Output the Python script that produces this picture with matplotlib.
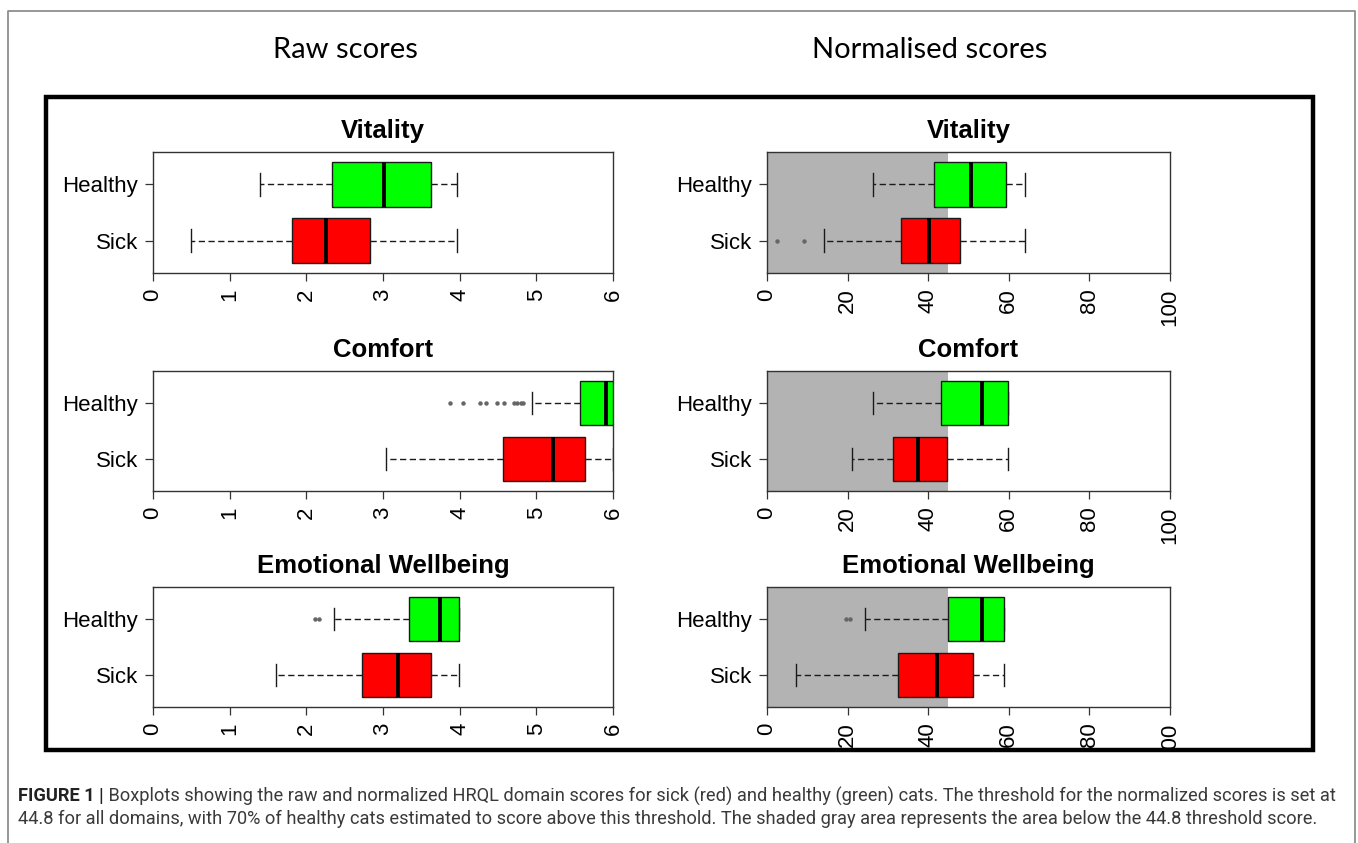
import matplotlib
matplotlib.use("Agg")
import matplotlib.pyplot as plt
from matplotlib.patches import Rectangle

# ---------------- data ----------------
groups = ["Sick", "Healthy"]
domains = ["Vitality", "Comfort", "Emotional Wellbeing"]
threshold = 44.8

# five-number summaries: [whisker low, Q1, median, Q3, whisker high]
raw_vitality_sick = [0.49, 1.81, 2.26, 2.83, 3.96]
raw_vitality_healthy = [1.40, 2.34, 3.01, 3.62, 3.96]
raw_comfort_sick = [3.04, 4.57, 5.22, 5.64, 6.00]
raw_comfort_healthy = [4.94, 5.57, 5.91, 6.00, 6.00]
raw_emotional_sick = [1.60, 2.73, 3.20, 3.63, 3.99]
raw_emotional_healthy = [2.36, 3.34, 3.74, 3.99, 3.99]

raw_vitality_sick_out = []
raw_vitality_healthy_out = []
raw_comfort_sick_out = []
raw_comfort_healthy_out = [3.87, 4.04, 4.26, 4.35, 4.49, 4.58, 4.71, 4.75, 4.80, 4.83]
raw_emotional_sick_out = []
raw_emotional_healthy_out = [2.11, 2.17]

norm_vitality_sick = [14.2, 33.2, 40.2, 48.0, 64.0]
norm_vitality_healthy = [26.2, 41.4, 50.7, 59.2, 64.0]
norm_comfort_sick = [21.2, 31.3, 37.5, 44.7, 59.7]
norm_comfort_healthy = [26.3, 43.1, 53.4, 59.7, 59.7]
norm_emotional_sick = [7.3, 32.4, 42.1, 51.2, 58.9]
norm_emotional_healthy = [24.4, 44.8, 53.4, 58.8, 58.9]

norm_vitality_sick_out = [2.6, 9.2]
norm_vitality_healthy_out = []
norm_comfort_sick_out = []
norm_comfort_healthy_out = []
norm_emotional_sick_out = []
norm_emotional_healthy_out = [19.5, 20.5]

raw_ticks = [0, 1, 2, 3, 4, 5, 6]
norm_ticks = [0, 20, 40, 60, 80, 100]

column_titles = ["Raw scores", "Normalised scores"]
caption_bold = "FIGURE 1 |"
caption_line1 = ("Boxplots showing the raw and normalized HRQL domain scores for sick (red) "
                 "and healthy (green) cats. The threshold for the normalized scores is set at")
caption_line2 = ("44.8 for all domains, with 70% of healthy cats estimated to score above this "
                 "threshold. The shaded gray area represents the area below the 44.8 threshold score.")

# ---------------- layout ----------------
plt.rcParams["font.family"] = ["Liberation Sans", "DejaVu Sans"]
W, H = 1358, 843
fig = plt.figure(figsize=(W / 100, H / 100), dpi=100)


def fx(x):
    return x / W


def fy(y):
    return 1 - y / H


def axes_px(x0, y0, x1, y1):
    return fig.add_axes([fx(x0), fy(y1), (x1 - x0) / W, (y1 - y0) / H])


rows = [(152, 273), (371, 491), (587, 707)]
left_col = (153, 613)
right_col = (767, 1170)

GREEN = "#00FF00"
RED = "#FF0000"
EDGE = "#1a1a1a"


def stats_of(v, out, label):
    return dict(whislo=v[0], q1=v[1], med=v[2], q3=v[3], whishi=v[4],
                fliers=out, label=label)


def draw_panel(ax, title, sick, healthy, sick_out, healthy_out, ticks, shade):
    xmax = ticks[-1]
    if shade:
        ax.axvspan(0, threshold, color="#B3B3B3", zorder=0, lw=0)
    st = [stats_of(sick, sick_out, groups[0]), stats_of(healthy, healthy_out, groups[1])]
    bp = ax.bxp(st, positions=[1, 2], widths=0.8, capwidths=0.4,
                orientation="horizontal", patch_artist=True, showfliers=True,
                boxprops=dict(edgecolor=EDGE, linewidth=1.0),
                medianprops=dict(color="black", linewidth=2.8, solid_capstyle="butt"),
                whiskerprops=dict(color=EDGE, linestyle=(0, (4.5, 2.5)), linewidth=1.0),
                capprops=dict(color=EDGE, linewidth=1.0),
                flierprops=dict(marker="o", markersize=2.2, markerfacecolor="#666666",
                                markeredgecolor="#666666", linestyle="none"))
    for patch, c in zip(bp["boxes"], [RED, GREEN]):
        patch.set_facecolor(c)
        patch.set_zorder(3)
    for m in bp["medians"]:
        m.set_zorder(4)
    ax.set_xlim(0, xmax)
    ax.set_ylim(0.42, 2.58)
    ax.set_xticks(ticks)
    ax.set_xticklabels([str(t) for t in ticks])
    ax.set_yticks([1, 2])
    ax.set_yticklabels(groups)
    ax.tick_params(axis="x", length=6, width=0.9, pad=5, labelsize=16,
                   labelrotation=90, color="#333333")
    ax.tick_params(axis="y", length=6, width=0.9, pad=5, labelsize=16,
                   color="#333333")
    for s in ax.spines.values():
        s.set_color("#333333")
        s.set_linewidth(1.0)
    ax.set_title(title, fontsize=18.5, fontweight="bold", pad=10)


raw_data = [
    (raw_vitality_sick, raw_vitality_healthy, raw_vitality_sick_out, raw_vitality_healthy_out),
    (raw_comfort_sick, raw_comfort_healthy, raw_comfort_sick_out, raw_comfort_healthy_out),
    (raw_emotional_sick, raw_emotional_healthy, raw_emotional_sick_out, raw_emotional_healthy_out),
]
norm_data = [
    (norm_vitality_sick, norm_vitality_healthy, norm_vitality_sick_out, norm_vitality_healthy_out),
    (norm_comfort_sick, norm_comfort_healthy, norm_comfort_sick_out, norm_comfort_healthy_out),
    (norm_emotional_sick, norm_emotional_healthy, norm_emotional_sick_out, norm_emotional_healthy_out),
]

for (y0, y1), name, rd, nd in zip(rows, domains, raw_data, norm_data):
    axl = axes_px(left_col[0], y0, left_col[1], y1)
    draw_panel(axl, name, *rd, raw_ticks, False)
    axr = axes_px(right_col[0], y0, right_col[1], y1)
    draw_panel(axr, name, *nd, norm_ticks, True)

# mask below the thick frame (clips bottom tick labels)
fig.add_artist(Rectangle((fx(40), fy(772)), (1320 - 40) / W, (772 - 752) / H,
                         transform=fig.transFigure, facecolor="white",
                         edgecolor="none", zorder=10))
# thick black frame
fig.add_artist(Rectangle((fx(46), fy(750)), (1313 - 46) / W, (750 - 97) / H,
                         transform=fig.transFigure, facecolor="none",
                         edgecolor="black", linewidth=3.2, zorder=11))
# light gray outer border (open at bottom)
fig.add_artist(plt.Line2D([fx(8), fx(8), fx(1355), fx(1355)],
                          [fy(845), fy(11), fy(11), fy(845)],
                          transform=fig.transFigure, color="#8f8f8f",
                          linewidth=1.3, zorder=11))

# column headers
fig.text(fx(345), fy(50), column_titles[0], ha="center", va="center",
         fontsize=21, family=["Lato", "DejaVu Sans"], color="black")
fig.text(fx(930), fy(50), column_titles[1], ha="center", va="center",
         fontsize=21, family=["Lato", "DejaVu Sans"], color="black")

# caption
renderer = fig.canvas.get_renderer()
cap_family = ["Roboto", "Liberation Sans", "DejaVu Sans"]
cap_size = 12.0
x_start = 18
y1_cap, y2_cap = 796, 819
tb = fig.text(fx(x_start), fy(y1_cap), caption_bold, ha="left", va="center",
              fontsize=cap_size, fontweight="bold", family=cap_family, color="#222222")
t1 = fig.text(0, fy(y1_cap), " " + caption_line1, ha="left", va="center",
              fontsize=cap_size, family=cap_family, color="#3a3a3a")
bw = tb.get_window_extent(renderer).width
w1 = t1.get_window_extent(renderer).width
target = 1328 - x_start
scale = target / (bw + w1)
cap_size *= scale
tb.set_fontsize(cap_size)
t1.set_fontsize(cap_size)
bw = tb.get_window_extent(renderer).width
t1.set_x(fx(x_start + bw))
fig.text(fx(x_start), fy(y2_cap), caption_line2, ha="left", va="center",
         fontsize=cap_size, family=cap_family, color="#3a3a3a")

fig.savefig("out.png", dpi=100)
